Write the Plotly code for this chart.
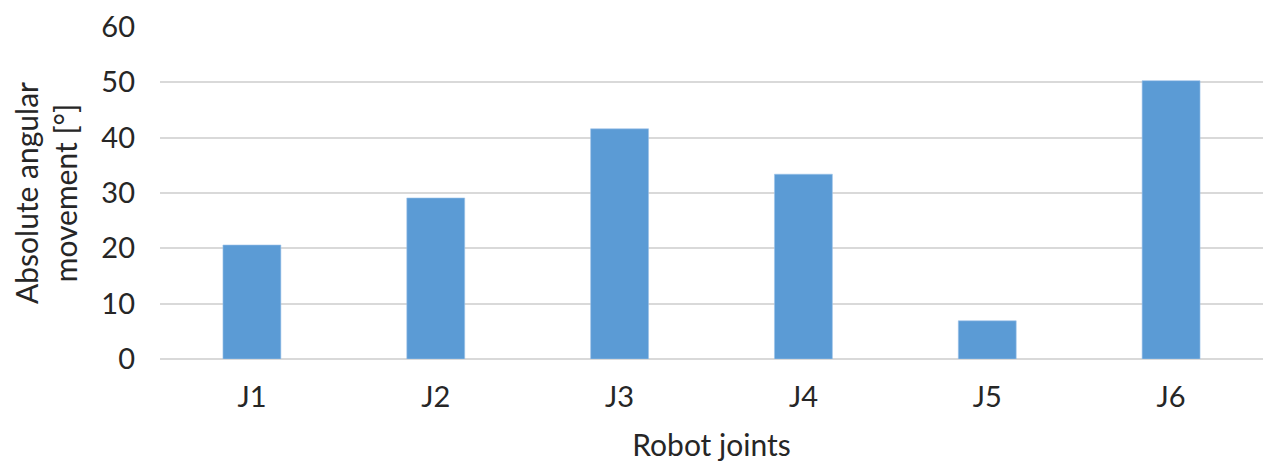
import plotly.graph_objects as go

# Robot joint angular movement data
joints = ["J1", "J2", "J3", "J4", "J5", "J6"]
movement = [20.6, 29.1, 41.6, 33.4, 6.9, 50.3]

y_ticks = [0, 10, 20, 30, 40, 50, 60]

BAR_COLOR = "#5B9BD5"
GRID_COLOR = "#d9d9d9"
TEXT_COLOR = "#262626"
FONT = "Lato"

fig = go.Figure()

fig.add_trace(go.Bar(
    x=joints,
    y=movement,
    marker=dict(color=BAR_COLOR, line=dict(color="#9dc3ea", width=0.6)),
    showlegend=False,
))

# page body adds ~8px offset, so size/margins are trimmed to compensate
fig.update_layout(
    width=1267,
    height=466,
    plot_bgcolor="white",
    paper_bgcolor="white",
    bargap=0.685,
    margin=dict(l=152, r=12, t=19, b=115, autoexpand=False),
    font=dict(family=FONT, size=29, color=TEXT_COLOR),
)

fig.update_xaxes(
    automargin=False,
    showgrid=False,
    showline=False,
    ticks="",
    ticklabelstandoff=18,
    tickfont=dict(size=29, color=TEXT_COLOR),
    title=dict(text="Robot joints", font=dict(size=30, color=TEXT_COLOR), standoff=22),
)

fig.update_yaxes(
    automargin=False,
    range=[0, 60],
    tickvals=y_ticks,
    showgrid=True,
    gridcolor=GRID_COLOR,
    gridwidth=2,
    zeroline=True,
    zerolinecolor=GRID_COLOR,
    zerolinewidth=2,
    showline=False,
    ticks="",
    ticklabelstandoff=24,
    tickfont=dict(size=29, color=TEXT_COLOR),
    title=dict(text="Absolute angular<br>movement [°]", font=dict(size=30, color=TEXT_COLOR), standoff=18),
)

fig.write_html("out.html")
